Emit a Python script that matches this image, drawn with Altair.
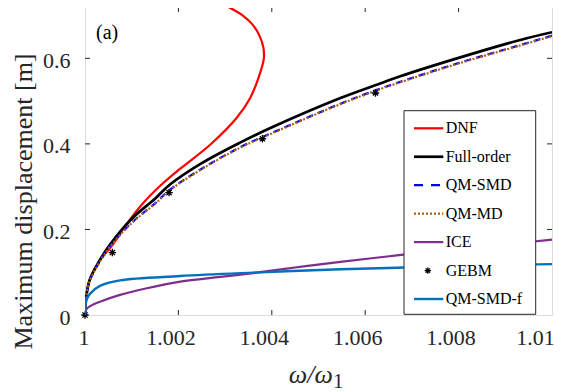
import altair as alt
import pandas as pd

# ---------------- data ----------------
dnf_x = [1.0, 1.00003, 1.0001, 1.0003, 1.00061, 1.00085, 1.0012, 1.00161, 1.00204, 1.00268,
         1.00325, 1.00354, 1.00372, 1.00383, 1.00382, 1.00374, 1.00358, 1.00338, 1.00314, 1.00295]
dnf_y = [0.0, 0.045, 0.082, 0.125, 0.167, 0.206, 0.256, 0.302, 0.342, 0.398,
         0.461, 0.508, 0.556, 0.600, 0.625, 0.652, 0.680, 0.700, 0.716, 0.727]

full_x = [1.0, 1.00003, 1.0001, 1.0003, 1.00054, 1.001, 1.0015, 1.00182, 1.0025,
          1.00332, 1.00397, 1.00547, 1.00632, 1.00675, 1.008, 1.00932, 1.01]
full_y = [0.0, 0.045, 0.082, 0.125, 0.165, 0.225, 0.272, 0.305, 0.355,
          0.403, 0.437, 0.507, 0.541, 0.558, 0.601, 0.643, 0.661]

smd_x = full_x
smd_y = [0.0, 0.044, 0.080, 0.122, 0.161, 0.216, 0.261, 0.293, 0.342,
         0.392, 0.424, 0.494, 0.529, 0.545, 0.589, 0.631, 0.653]

md_x = full_x
md_y = [0.0, 0.044, 0.079, 0.121, 0.160, 0.215, 0.260, 0.292, 0.341,
        0.391, 0.423, 0.493, 0.528, 0.544, 0.588, 0.630, 0.652]

ice_x = [1.0, 1.00002, 1.0001, 1.00032, 1.00075, 1.0013, 1.00204, 1.0029, 1.0036,
         1.0045, 1.00547, 1.00682, 1.008, 1.009, 1.01]
ice_y = [0.005, 0.012, 0.02, 0.031, 0.047, 0.062, 0.078, 0.089, 0.098,
         0.111, 0.124, 0.141, 0.154, 0.165, 0.176]

smdf_x = [1.0, 1.00001, 1.00003, 1.00011, 1.00032, 1.00075, 1.00204, 1.0036,
          1.00547, 1.00682, 1.008, 1.01]
smdf_y = [0.0, 0.02, 0.035, 0.05, 0.068, 0.081, 0.091, 0.099,
          0.107, 0.111, 0.115, 0.119]

gebm_x = [1.0, 1.000586, 1.0018, 1.0038, 1.00622]
gebm_y = [0.0, 0.146, 0.286, 0.412, 0.519]

x_ticks = [1.0, 1.002, 1.004, 1.006, 1.008, 1.01]
y_ticks = [0.0, 0.2, 0.4, 0.6]
x_inner_ticks = [1.002, 1.004, 1.006, 1.008]
y_inner_ticks = [0.2, 0.4, 0.6]

legend_labels = ["DNF", "Full-order", "QM-SMD", "QM-MD", "ICE", "GEBM", "QM-SMD-f"]

# ---------------- styling ----------------
W, H = 467, 308
FONT = "Liberation Serif"
AX = "#262626"
RED, BLACK, BLUE, BROWN, PURPLE, MBLUE = "#FF0000", "#000000", "#0000FF", "#B0600F", "#7E2F8E", "#0072BD"
STAR = "M-1,0L1,0M0,-1L0,1M-0.7,-0.7L0.7,0.7M-0.7,0.7L0.7,-0.7"

xscale = alt.Scale(domain=[1.0, 1.01], nice=False, zero=False)
yscale = alt.Scale(domain=[0, 0.72], nice=False, zero=False)

xaxis = alt.Axis(values=x_ticks, title=None, grid=False, ticks=False, domain=False,
                 labelFont=FONT, labelFontSize=22, labelColor=AX, labelPadding=12,
                 labelFlush=False, labelOverlap=False,
                 labelOffset={"condition": [{"test": "datum.value > 1.0095", "value": -17},
                                            {"test": "datum.value > 1.001", "value": -8}],
                              "value": -1.5},
                 labelExpr="datum.value > 1.0095 ? '1.01' : (datum.value < 1.0005 ? '1' : format(datum.value, '.3f'))")
yaxis = alt.Axis(values=y_ticks, title="Maximum displacement [m]", grid=False, ticks=False, domain=False,
                 labelFont=FONT, labelFontSize=22, labelColor=AX, labelPadding=15, labelOffset=2,
                 labelFlush=False, labelOverlap=False,
                 labelExpr="datum.value == 0 ? '0' : format(datum.value, '.1f')",
                 titleFont=FONT, titleFontSize=26, titleFontWeight="normal", titleColor=AX,
                 titleX=-62, titleY=194, titleAngle=270, titleAlign="center", titleBaseline="middle")

X = lambda f: alt.X(f, scale=xscale, axis=xaxis, title=None)
Y = lambda f: alt.Y(f, scale=yscale, axis=yaxis, title="Maximum displacement [m]")


def line_layer(xs, ys, color, width, dash=None):
    df = pd.DataFrame({"x": xs, "y": ys, "o": list(range(len(xs)))})
    kw = dict(color=color, strokeWidth=width, clip=True, interpolate="catmull-rom")
    if dash is not None:
        kw["strokeDash"] = dash
    return alt.Chart(df).mark_line(**kw).encode(x=X("x:Q"), y=Y("y:Q"), order="o:Q")


layers = [
    line_layer(dnf_x, dnf_y, RED, 2.2),
    line_layer(full_x, full_y, BLACK, 2.7),
    line_layer(smd_x, smd_y, BLUE, 2.2, dash=[7, 5]),
    line_layer(md_x, md_y, BROWN, 2.2, dash=[2, 2]),
    line_layer(ice_x, ice_y, PURPLE, 2.2),
    alt.Chart(pd.DataFrame({"x": gebm_x, "y": gebm_y})).mark_point(
        shape=STAR, filled=False, color=BLACK, strokeWidth=1.3, size=55, opacity=1
    ).encode(x=X("x:Q"), y=Y("y:Q")),
    line_layer(smdf_x, smdf_y, MBLUE, 2.4),
]

# inward ticks on all four sides
xt = pd.DataFrame({"t": x_inner_ticks})
yt = pd.DataFrame({"t": y_inner_ticks})
tick_style = dict(color=AX, strokeWidth=1)
layers += [
    alt.Chart(xt).mark_rule(**tick_style).encode(x=X("t:Q"), y=alt.value(H), y2=alt.value(H - 5)),
    alt.Chart(xt).mark_rule(**tick_style).encode(x=X("t:Q"), y=alt.value(0), y2=alt.value(5)),
    alt.Chart(yt).mark_rule(**tick_style).encode(y=Y("t:Q"), x=alt.value(0), x2=alt.value(5)),
    alt.Chart(yt).mark_rule(**tick_style).encode(y=Y("t:Q"), x=alt.value(W - 5), x2=alt.value(W)),
]

# legend box
one = pd.DataFrame({"k": [0]})
layers.append(
    alt.Chart(one).mark_rect(fill="white", stroke=AX, strokeWidth=1).encode(
        x=alt.value(319), x2=alt.value(450.7), y=alt.value(103.7), y2=alt.value(307.3))
)
leg_styles = [
    (RED, 2.2, None), (BLACK, 2.7, None), (BLUE, 2.2, [9, 8]), (BROWN, 2.2, [2, 2]),
    (PURPLE, 2.2, None), None, (MBLUE, 2.4, None),
]
for i, (lab, st) in enumerate(zip(legend_labels, leg_styles)):
    yy = 121.3 + i * 28.45
    if st is None:
        layers.append(
            alt.Chart(one).mark_point(shape=STAR, filled=False, color=BLACK, strokeWidth=1.3,
                                      size=40, opacity=1).encode(x=alt.value(342.8), y=alt.value(yy))
        )
    else:
        c, w, d = st
        kw = dict(color=c, strokeWidth=w)
        if d is not None:
            kw["strokeDash"] = d
        layers.append(
            alt.Chart(one).mark_rule(**kw).encode(x=alt.value(329), x2=alt.value(358.3), y=alt.value(yy))
        )
    layers.append(
        alt.Chart(pd.DataFrame({"label": [lab]})).mark_text(
            font=FONT, fontSize=16, color=BLACK, align="left", baseline="middle"
        ).encode(x=alt.value(360.7), y=alt.value(yy), text="label:N")
    )

# panel label and x title
layers.append(
    alt.Chart(pd.DataFrame({"label": ["(a)"]})).mark_text(
        font=FONT, fontSize=20, color=BLACK, align="left", baseline="alphabetic"
    ).encode(x=alt.value(11), y=alt.value(32), text="label:N")
)
layers.append(
    alt.Chart(pd.DataFrame({"label": ["ω/ω"]})).mark_text(
        font=FONT, fontSize=26, fontStyle="italic", color=AX, align="center", baseline="alphabetic"
    ).encode(x=alt.value(225.8), y=alt.value(376), text="label:N")
)
layers.append(
    alt.Chart(pd.DataFrame({"label": ["1"]})).mark_text(
        font=FONT, fontSize=21, color=AX, align="left", baseline="alphabetic"
    ).encode(x=alt.value(248), y=alt.value(381), text="label:N")
)

chart = alt.layer(*layers).properties(
    width=W, height=H,
    autosize=alt.AutoSizeParams(type="none"),
    padding={"left": 77, "top": -1, "right": 3, "bottom": 80},
).configure_view(stroke=AX, strokeWidth=1).configure(background="white")

chart.save("out.html", embed_options={"renderer": "svg", "actions": False})
